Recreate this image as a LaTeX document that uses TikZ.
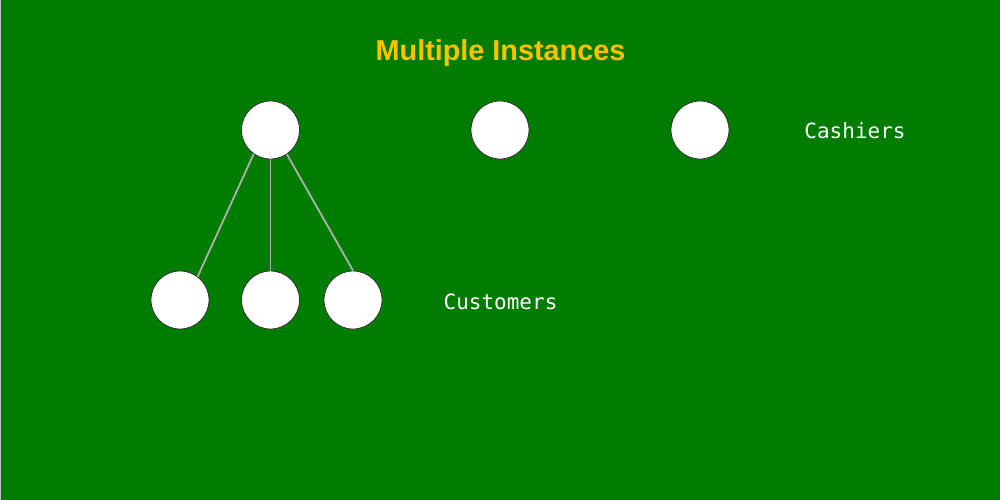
\documentclass[tikz,border=0pt]{standalone}
\usepackage{fontspec}
\usepackage{tikz}
\newfontfamily\titlefont{Liberation Sans}
\newfontfamily\labelfont{DejaVu Sans Mono}
\definecolor{bggreen}{HTML}{007C00}
\definecolor{titleorange}{HTML}{FFC000}
\definecolor{linkgray}{HTML}{B0B0B0}

\begin{document}
\begin{tikzpicture}[x=1pt,y=-1pt,
    person/.style={circle,draw=black!80,fill=white,line width=0.8pt,minimum size=58pt,inner sep=0pt},
    tag/.style={text=white,font=\labelfont\fontsize{21}{24}\selectfont,anchor=base},
    link/.style={draw=linkgray,line width=1.8pt}]
      \useasboundingbox (0,0) rectangle (1000,500);
      \draw[fill=bggreen,draw=gray!50,line width=1pt] (0,0) rectangle (1000,500);
      \node[anchor=base,text=titleorange,font=\titlefont\bfseries\fontsize{28.8}{32}\selectfont] (title) at (500.5,60.5) {Multiple Instances};
      \node[person] (cashA) at (270.5,130) {};
      \node[person] (cashB) at (500,130) {};
      \node[person] (cashC) at (700,130) {};
      \node[person] (custA) at (180,300) {};
      \node[person] (custB) at (270.5,300) {};
      \node[person] (custC) at (353,300) {};
      \node[tag] (cashiers) at (855,139) {Cashiers};
      \node[tag] (customers) at (500.5,309) {Customers};
      \draw[link] (cashA.235) -- (custA.53);
      \draw[link] (cashA.south) -- (custB.north);
      \draw[link] (cashA.304) -- (custC.north);
\end{tikzpicture}
\end{document}
